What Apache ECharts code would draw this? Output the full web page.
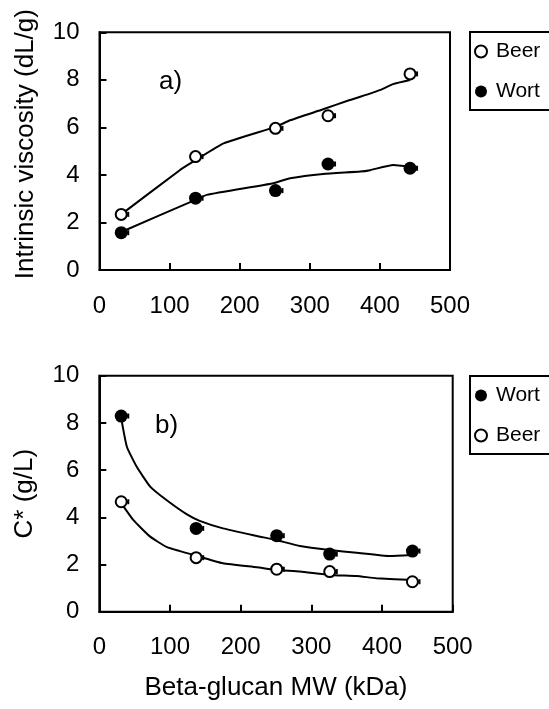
<!DOCTYPE html>
<html><head><meta charset="utf-8">
<script src="https://cdn.jsdelivr.net/npm/echarts@6/dist/echarts.min.js"></script>
<style>html,body{margin:0;padding:0;background:#fff}#c{width:549px;height:709px}</style>
</head><body><div id="c"></div>
<script>
// ---- data ----
const xTicks = [0, 100, 200, 300, 400, 500];
const yTicks = [0, 2, 4, 6, 8, 10];

const mwKDa = [31, 137, 251, 326, 443];
const mwErr = [10, 10, 10, 10, 10];

// a) intrinsic viscosity (dL/g)
const viscBeer = [2.34, 4.77, 5.96, 6.49, 8.25];
const viscWort = [1.57, 3.02, 3.34, 4.46, 4.28];
const viscBeerFitX = [31, 115, 137, 177, 252, 272, 319, 357, 372, 400, 419, 443];
const viscBeerFitY = [2.34, 4.21, 4.62, 5.33, 6.03, 6.30, 6.76, 7.15, 7.29, 7.57, 7.82, 7.99];
const viscWortFitX = [31, 136, 153, 248, 272, 319, 372, 386, 419, 443];
const viscWortFitY = [1.60, 2.94, 3.16, 3.65, 3.86, 4.04, 4.14, 4.20, 4.42, 4.35];

// b) C* (g/L)
const cstarWort = [8.29, 3.53, 3.22, 2.44, 2.57];
const cstarBeer = [4.66, 2.29, 1.80, 1.70, 1.27];
const cstarWortFitX = [31, 39, 53, 72, 95, 124, 142, 175, 223, 250, 284, 326, 364, 411, 442];
const cstarWortFitY = [8.20, 6.99, 6.14, 5.30, 4.73, 4.12, 3.85, 3.53, 3.21, 3.04, 2.78, 2.61, 2.50, 2.36, 2.40];
const cstarBeerFitX = [31, 48, 72, 95, 134, 175, 223, 250, 284, 326, 364, 392, 445];
const cstarBeerFitY = [4.60, 3.89, 3.18, 2.75, 2.40, 2.05, 1.88, 1.77, 1.70, 1.56, 1.51, 1.42, 1.34];

const titleA = 'Intrinsic viscosity (dL/g)';
const titleB = 'C* (g/L)';
const titleX = 'Beta-glucan MW (kDa)';

// ---- helpers ----
const FONT = '"Liberation Sans", Arial, Helvetica, sans-serif';
const zip = (xs, ys) => xs.map((x, i) => [x, ys[i]]);
const errData = (xs, ys, es) => xs.map((x, i) => [x, ys[i], es[i]]);

function xAxisCfg(gridIndex, withName) {
  const a = {
    type: 'value', gridIndex,
    min: xTicks[0], max: xTicks[xTicks.length - 1], interval: xTicks[1] - xTicks[0],
    axisLine: { show: true, onZero: false, lineStyle: { color: '#000', width: 2 } },
    axisTick: { show: true, inside: true, length: 7, lineStyle: { color: '#000', width: 2 } },
    axisLabel: { color: '#000', fontSize: 24, fontFamily: FONT, margin: 24 },
    splitLine: { show: false }
  };
  if (withName) {
    a.name = titleX; a.nameLocation = 'middle'; a.nameGap = 63;
    a.nameTextStyle = { color: '#000', fontSize: 26, fontFamily: FONT };
  }
  return a;
}
function yAxisCfg(gridIndex, name, pad) {
  return {
    type: 'value', gridIndex,
    min: yTicks[0], max: yTicks[yTicks.length - 1], interval: yTicks[1] - yTicks[0],
    name, nameLocation: 'middle', nameGap: 61,
    nameTextStyle: { color: '#000', fontSize: 26, fontFamily: FONT, padding: pad },
    axisLine: { show: true, onZero: false, lineStyle: { color: '#000', width: 2 } },
    axisTick: { show: true, inside: true, length: 7, lineStyle: { color: '#000', width: 2 } },
    axisLabel: { color: '#000', fontSize: 24, fontFamily: FONT, margin: 20 },
    splitLine: { show: false }
  };
}
function scatter(name, gi, data, open) {
  return {
    name, type: 'scatter', xAxisIndex: gi, yAxisIndex: gi, data,
    symbol: 'circle', symbolSize: open ? 11 : 13, z: 5,
    itemStyle: open ? { color: '#fff', borderColor: '#000', borderWidth: 2, opacity: 1 }
                    : { color: '#000', borderWidth: 0, opacity: 1 },
    emphasis: { disabled: true }
  };
}
function fit(gi, data) {
  return {
    name: 'fit', type: 'line', xAxisIndex: gi, yAxisIndex: gi, data,
    showSymbol: false, smooth: 0.15, z: 2,
    lineStyle: { color: '#000', width: 2 }, emphasis: { disabled: true }, silent: true
  };
}
function errBars(gi, data) {
  return {
    name: 'err', type: 'custom', xAxisIndex: gi, yAxisIndex: gi, data, z: 4, silent: true,
    renderItem: (params, api) => {
      const p0 = api.coord([api.value(0), api.value(1)]);
      const p1 = api.coord([api.value(0) + api.value(2), api.value(1)]);
      const st = { stroke: '#000', lineWidth: 2 };
      return { type: 'group', children: [
        { type: 'line', shape: { x1: p0[0], y1: p0[1], x2: p1[0], y2: p1[1] }, style: st },
        { type: 'line', shape: { x1: p1[0], y1: p1[1] - 2.5, x2: p1[0], y2: p1[1] + 2.5 }, style: st }
      ]};
    }
  };
}
function legendCfg(top, names) {
  return {
    data: names, orient: 'vertical', left: 470, top,
    padding: [9, 0, 8, 4], itemGap: 19, itemWidth: 20, itemHeight: 12,
    selectedMode: false,
    textStyle: { color: '#000', fontSize: 21, fontFamily: FONT }
  };
}
// legend frames run past the right edge of the page, as in the reference
function legendFrame(top) {
  return { type: 'rect', shape: { x: 470, y: top, width: 140, height: 78 },
           style: { fill: 'none', stroke: '#000', lineWidth: 2 }, silent: true };
}

const chart = echarts.init(document.getElementById('c'), null, { renderer: 'canvas' });
chart.setOption({
  animation: false,
  backgroundColor: '#fff',
  grid: [
    { left: 99.5, top: 32.3, width: 350.5, height: 237.7, show: true, borderColor: '#000', borderWidth: 2, containLabel: false },
    { left: 99.3, top: 375.7, width: 353.4, height: 236, show: true, borderColor: '#000', borderWidth: 2, containLabel: false }
  ],
  xAxis: [xAxisCfg(0, false), xAxisCfg(1, true)],
  yAxis: [yAxisCfg(0, titleA, [0, 0, 0, 14]), yAxisCfg(1, titleB, [0, 0, 0, 0])],
  legend: [legendCfg(32, ['Beer', 'Wort']), legendCfg(376, ['Wort', 'Beer'])],
  graphic: [
    legendFrame(32),
    legendFrame(376),
    { type: 'text', x: 159, y: 82, style: { text: 'a)', font: '26px ' + FONT, fill: '#000', verticalAlign: 'middle' } },
    { type: 'text', x: 155, y: 426, style: { text: 'b)', font: '26px ' + FONT, fill: '#000', verticalAlign: 'middle' } }
  ],
  series: [
    fit(0, zip(viscBeerFitX, viscBeerFitY)),
    fit(0, zip(viscWortFitX, viscWortFitY)),
    errBars(0, errData(mwKDa, viscBeer, mwErr)),
    errBars(0, errData(mwKDa, viscWort, mwErr)),
    scatter('Beer', 0, zip(mwKDa, viscBeer), true),
    scatter('Wort', 0, zip(mwKDa, viscWort), false),
    fit(1, zip(cstarWortFitX, cstarWortFitY)),
    fit(1, zip(cstarBeerFitX, cstarBeerFitY)),
    errBars(1, errData(mwKDa, cstarWort, mwErr)),
    errBars(1, errData(mwKDa, cstarBeer, mwErr)),
    scatter('Wort', 1, zip(mwKDa, cstarWort), false),
    scatter('Beer', 1, zip(mwKDa, cstarBeer), true)
  ]
});
</script>
</body></html>
